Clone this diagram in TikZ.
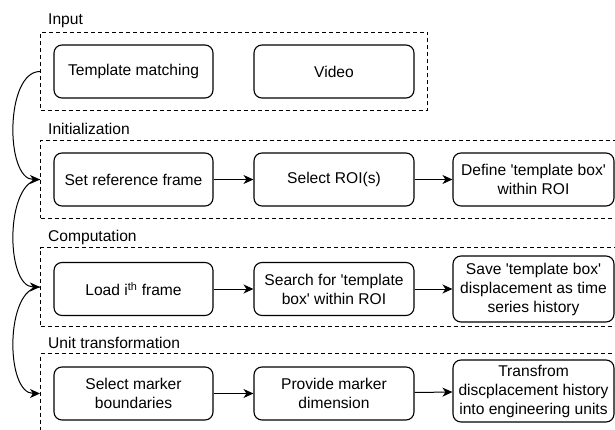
\documentclass[tikz,border=0pt]{standalone}
\usepackage{fontspec}
\setmainfont{Liberation Sans}
\usetikzlibrary{arrows.meta}
\newcommand\dgfont{\fontsize{15.6}{19}\selectfont}
\newcommand\sq{\textquotesingle}
\begin{document}
\begin{tikzpicture}[x=1pt,y=-1pt,
  box/.style={draw, rounded corners=8pt, line width=1.1pt, minimum width=159pt, minimum height=53pt, align=center, inner sep=2pt, font=\dgfont},
  group/.style={draw, dash pattern=on 4pt off 3pt, line width=1pt, inner sep=0pt, anchor=north west},
  lbl/.style={anchor=base west, inner sep=0pt, font=\dgfont},
  arr/.style={-{Stealth[length=10pt,width=9pt,inset=3pt]}, line width=1pt}]
\useasboundingbox (0,0) rectangle (615,430);
\clip (0,0) rectangle (615,430);
% groups
\node[group, minimum width=387pt, minimum height=78pt] (gin) at (40,32) {};
\node[group, minimum width=585pt, minimum height=78pt] (gini) at (40,140) {};
\node[group, minimum width=585pt, minimum height=79pt] (gcomp) at (40,247) {};
\node[group, minimum width=585pt, minimum height=80pt] (gunit) at (40,353) {};
% labels
\node[lbl] (lin) at (48,25) {Input};
\node[lbl] (lini) at (48,135) {Initialization};
\node[lbl] (lcomp) at (48,241) {Computation};
\node[lbl] (lunit) at (48,348) {Unit transformation};
% boxes
\node[box] (tm) at (133.5,71.5) {Template matching};
\node[box, minimum width=160pt] (vid) at (334,71.5) {Video};
\node[box] (sr) at (133.5,179.5) {Set reference frame};
\node[box, minimum width=160pt] (roi) at (334,179.5) {Select ROI(s)};
\node[box, minimum width=161pt] (def) at (533.5,179.5) {Define \sq template box\sq\\within ROI};
\node[box] (ld) at (133.5,289) {Load i\textsuperscript{th} frame};
\node[box, minimum width=160pt] (srch) at (334,289) {Search for \sq template\\box\sq{} within ROI};
\node[box, minimum width=161pt, minimum height=66pt] (sv) at (533.5,289) {Save \sq template box\sq\\displacement as time\\series history};
\node[box] (sm) at (133.5,393.5) {Select marker\\boundaries};
\node[box, minimum width=160pt] (pm) at (334,393.5) {Provide marker\\dimension};
\node[box, minimum width=161pt, minimum height=62pt] (tr) at (533.5,391) {Transfrom\\discplacement history\\into engineering units};
% arrows
\draw[arr] (sr) -- (roi);
\draw[arr] (roi) -- (def);
\draw[arr] (ld) -- (srch);
\draw[arr] (srch) -- (sv);
\draw[arr] (sm) -- (pm);
\draw[arr] (pm) -- (tr);
% curved arrows
\draw[arr] (gin.west) .. controls ([xshift=-35pt]gin.west) and ([xshift=-35pt]gini.west) .. (gini.west);
\draw[arr] (gini.west) .. controls ([xshift=-35pt]gini.west) and ([xshift=-35pt]gcomp.west) .. (gcomp.west);
\draw[arr] (gcomp.west) .. controls ([xshift=-35pt]gcomp.west) and ([xshift=-35pt]gunit.west) .. (gunit.west);
\end{tikzpicture}
\end{document}
